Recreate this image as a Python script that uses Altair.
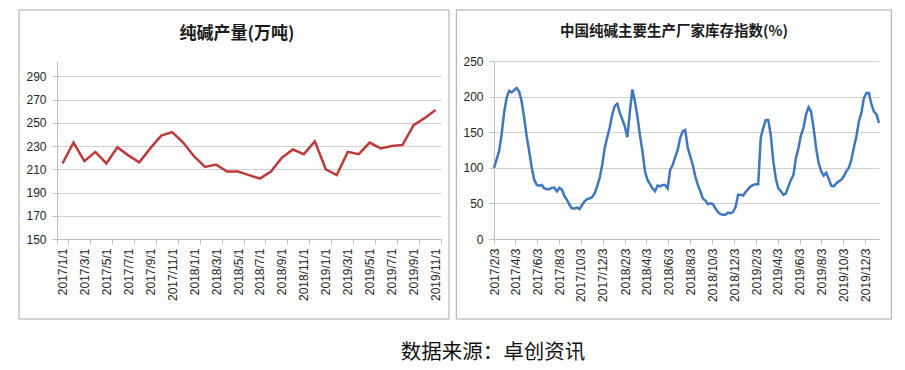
import altair as alt
import pandas as pd

# ---------------- data ----------------
prod_labels = [f"{2017 + i // 12}/{i % 12 + 1}/1" for i in range(35)]
prod_values = [215, 233, 217, 225, 215, 229, 222, 216, 228, 239, 242, 233,
               221, 212, 214, 208, 208, 205, 202, 208, 220, 227, 223, 234,
               210, 205, 225, 223, 233, 228, 230, 231, 248, 254, 261]
prod_tick_labels = prod_labels[::2]
prod_y_ticks = [150, 170, 190, 210, 230, 250, 270, 290]

stock_dates = list(pd.date_range("2017-02-03", periods=154, freq="7D").strftime("%Y/%m/%d"))
stock_values = [100, 111, 123, 146, 177, 198, 208, 206, 209, 212, 207, 193, 170,
                144, 123, 100, 83, 76, 75, 76, 71, 70, 70, 72, 72, 67, 72, 69,
                60, 55, 48, 43, 43, 44, 42, 48, 53,
                56, 57, 59, 64, 74, 86, 104, 128, 143, 157, 175, 187, 190, 177,
                168, 158, 143, 179, 210, 193, 172, 146, 123, 95, 83, 77, 71, 67,
                75, 74, 76, 76, 71, 97, 104, 115, 125, 142, 151, 153,
                128, 116, 104, 88, 76, 67, 57, 54, 49, 50, 49, 43, 38, 35, 34,
                34, 37, 36, 38, 45, 62, 62, 61, 66, 70, 74, 76, 77, 77, 142,
                156, 167, 167, 146, 109, 85, 71, 67, 62,
                64, 74, 83, 90, 114, 128, 146, 156, 175, 185, 179, 156, 128,
                107, 95, 89, 93, 85, 75, 74, 78, 81, 83, 88, 95, 100, 111, 128,
                144, 165, 177, 198, 205, 205, 189, 179, 175, 163]
stock_tick_dates = [(2017, 2, 3), (2017, 4, 3), (2017, 6, 3), (2017, 8, 3), (2017, 10, 3),
                    (2017, 12, 3), (2018, 2, 3), (2018, 4, 3), (2018, 6, 3), (2018, 8, 3),
                    (2018, 10, 3), (2018, 12, 3), (2019, 2, 3), (2019, 4, 3), (2019, 6, 3),
                    (2019, 8, 3), (2019, 10, 3), (2019, 12, 3)]
stock_x_end = (2020, 1, 10)
stock_y_ticks = [0, 50, 100, 150, 200, 250]

TITLE_LEFT = "纯碱产量(万吨)"
TITLE_RIGHT = "中国纯碱主要生产厂家库存指数(%)"
SOURCE = "数据来源：卓创资讯"

prod_df = pd.DataFrame({"month": prod_labels, "value": prod_values})
stock_df = pd.DataFrame({"date": stock_dates, "value": stock_values})
one = pd.DataFrame({"k": [0]})

W_L, W_R, H = 384, 385, 178
LABEL_FONT = "Liberation Sans"
CJK = "Noto Sans CJK SC"
AX_GRAY = "#BFBFBF"


def frame(x0, x1, y0, y1):
    return alt.Chart(one).mark_rect(fill="transparent", stroke="#A6A6A6", strokeWidth=1).encode(
        x=alt.value(x0), x2=alt.value(x1), y=alt.value(y0), y2=alt.value(y1))


def label(text, x, y, size, weight="bold", color="#1a1a1a"):
    return alt.Chart(one).mark_text(
        text=text, font=CJK, fontSize=size, fontWeight=weight, color=color,
        align="center", baseline="middle").encode(x=alt.value(x), y=alt.value(y))


# ---------------- left panel ----------------
left_line = alt.Chart(prod_df).mark_line(color="#BE3A3A", strokeWidth=2.5).encode(
    x=alt.X("month:N", sort=prod_labels, bandPosition=0.5,
            scale=alt.Scale(type="band", paddingInner=0, paddingOuter=0),
            axis=alt.Axis(values=prod_tick_labels, title=None, labelAngle=270,
                          tickBand="extent", tickSize=5, labelPadding=4, grid=False)),
    y=alt.Y("value:Q", scale=alt.Scale(domain=[150, 303.2], nice=False, zero=False),
            axis=alt.Axis(values=prod_y_ticks, title=None, tickSize=5, labelPadding=6)),
)
left = alt.layer(
    frame(-38, W_L + 8, -51, H + 80),
    label(TITLE_LEFT, 180, -27, 17),
    left_line,
).properties(width=W_L, height=H)

# ---------------- right panel ----------------
def dt(t):
    return alt.DateTime(year=t[0], month=t[1], date=t[2])


right_line = alt.Chart(stock_df).mark_line(color="#3E77BF", strokeWidth=2.5).encode(
    x=alt.X("date:T",
            scale=alt.Scale(domain=[dt(stock_tick_dates[0]), dt(stock_x_end)], nice=False),
            axis=alt.Axis(values=[dt(t) for t in stock_tick_dates], format="%Y/%-m/%-d",
                          title=None, labelAngle=270, tickSize=5, labelPadding=4, grid=False,
                          labelOverlap=False)),
    y=alt.Y("value:Q", scale=alt.Scale(domain=[0, 250], nice=False),
            axis=alt.Axis(values=stock_y_ticks, title=None, tickSize=5, labelPadding=6)),
)

right = alt.layer(
    frame(-37.7, W_R + 12.3, -51, H + 80),
    label(TITLE_RIGHT, 180, -29, 14.5),
    right_line,
    label(SOURCE, -1, 291.5, 20.5, weight="normal", color="#111111"),
).properties(width=W_R, height=H)

chart = alt.hconcat(left, right, spacing=53, bounds="flush").properties(
    padding={"left": 10, "top": 1, "right": 0, "bottom": 3},
    background="white",
).configure_view(strokeWidth=0).configure_axis(
    labelFont=LABEL_FONT, labelFontSize=12, labelColor="#262626",
    domainColor=AX_GRAY, tickColor=AX_GRAY, gridColor="#D0D0D0", gridWidth=1,
)

chart.save("out.html", embed_options={"renderer": "svg", "actions": False})
